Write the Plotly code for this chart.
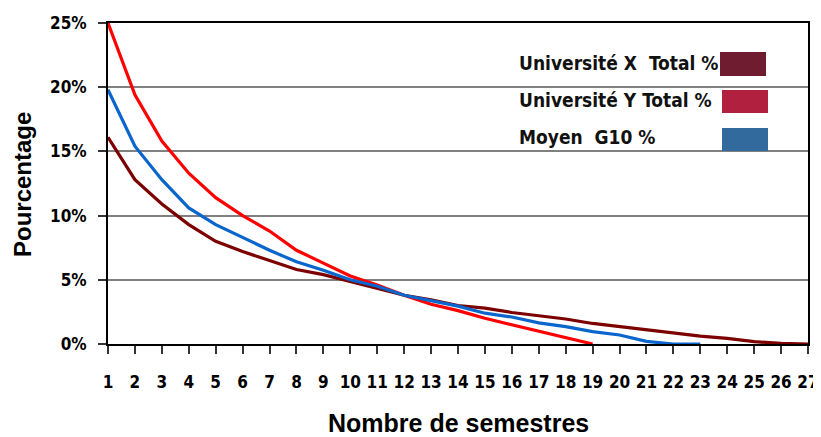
import plotly.graph_objects as go

semesters = list(range(1, 28))
univ_x = [16.1, 12.8, 10.9, 9.3, 8.0, 7.2, 6.5, 5.8, 5.4, 4.85, 4.35, 3.8, 3.45, 3.0,
          2.8, 2.45, 2.2, 1.95, 1.6, 1.35, 1.1, 0.85, 0.62, 0.44, 0.18, 0.05, 0.0]
univ_y = [25.0, 19.4, 15.8, 13.3, 11.4, 10.0, 8.8, 7.3, 6.3, 5.3, 4.6, 3.8, 3.1, 2.6,
          2.0, 1.5, 0.96, 0.46, 0.0]
moyen = [19.8, 15.4, 12.8, 10.6, 9.3, 8.3, 7.3, 6.4, 5.75, 5.0, 4.5, 3.8, 3.4, 2.95,
         2.4, 2.1, 1.65, 1.35, 0.96, 0.7, 0.2, 0.0, 0.0]

series_names = ["Université X  Total %", "Université Y Total %", "Moyen  G10 %"]
line_colors = ["#7d0000", "#ff0000", "#0a66cc"]
swatch_colors = ["#6f1c30", "#b22040", "#336a9e"]
y_ticks = [0, 5, 10, 15, 20, 25]
y_tick_text = ["0%", "5%", "10%", "15%", "20%", "25%"]

NARROW = "DejaVu Sans Condensed, Liberation Sans Narrow, sans-serif"
ARIAL = "Liberation Sans, Arial, sans-serif"

fig = go.Figure()
for name, vals, col in zip(series_names, [univ_x, univ_y, moyen], line_colors):
    fig.add_trace(go.Scatter(x=semesters[:len(vals)], y=vals, mode="lines", name=name,
                             line=dict(color=col, width=3.2), showlegend=False))

# page body has an 8px margin: figure is drawn offset by OFF pixels
OFF = 8
W, H = 821 - OFF, 437 - OFF
# plot area on the page: x 108..808, y 23..344
L, T = 108 - OFF, 23 - OFF
R, B = W - (808 - OFF), H - (344 - OFF)
pw, ph = W - L - R, H - T - B

fig.update_layout(
    width=W, height=H, margin=dict(l=L, r=R, t=T, b=B, autoexpand=False),
    paper_bgcolor="white", plot_bgcolor="white",
    xaxis=dict(range=[1, 27], tickmode="array", tickvals=semesters,
               ticktext=[str(s) for s in semesters], showgrid=False, zeroline=False,
               showline=True, linecolor="black", linewidth=2, mirror=True,
               ticks="outside", ticklen=8, tickwidth=1.5, tickcolor="#333",
               ticklabelstandoff=14, tickangle=0, automargin=False,
               tickfont=dict(family=NARROW, size=17, color="black", weight="bold")),
    yaxis=dict(range=[0, 25], tickmode="array", tickvals=y_ticks, ticktext=y_tick_text,
               showgrid=True, gridcolor="#808080", gridwidth=2, zeroline=False,
               showline=True, linecolor="black", linewidth=2, mirror=True,
               ticks="outside", ticklen=8, tickwidth=1.5, tickcolor="#333",
               ticklabelstandoff=8, automargin=False,
               tickfont=dict(family=NARROW, size=17, color="black", weight="bold")),
    xaxis2=dict(range=[1, 27], overlaying="x", anchor="y", side="bottom",
                tickmode="array", tickvals=semesters, showticklabels=False,
                showgrid=False, zeroline=False, showline=False, automargin=False,
                ticks="inside", ticklen=7, tickwidth=1.5, tickcolor="#333"),
    yaxis2=dict(range=[0, 25], overlaying="y", anchor="x", side="left",
                tickmode="array", tickvals=y_ticks, showticklabels=False,
                showgrid=False, zeroline=False, showline=False, automargin=False,
                ticks="inside", ticklen=7, tickwidth=1.5, tickcolor="#333"),
)

def px_x(p):
    # p: page pixel x
    return (p - OFF - L) / pw

def px_y(p):
    # p: page pixel y
    return (H - B - (p - OFF)) / ph

# axis titles
fig.add_annotation(text="Pourcentage", xref="paper", yref="paper", x=px_x(22), y=px_y(185),
                   textangle=-90, showarrow=False, xanchor="center", yanchor="middle",
                   font=dict(family=ARIAL, size=24, color="black", weight="bold"))
fig.add_annotation(text="Nombre de semestres", xref="paper", yref="paper", x=0.5, y=px_y(423),
                   showarrow=False, xanchor="center", yanchor="middle",
                   font=dict(family=ARIAL, size=25, color="black", weight="bold"))

# custom legend: text left, swatch right
text_y = [63, 100, 137]
sw_box = [(720, 52, 766, 76), (722, 90, 768, 113), (722, 128, 768, 151)]
for name, ty, box, col in zip(series_names, text_y, sw_box, swatch_colors):
    fig.add_annotation(text=name.replace(" ", "\u00a0"), xref="paper", yref="paper",
                       x=px_x(517), y=px_y(ty), showarrow=False, xanchor="left",
                       yanchor="middle",
                       font=dict(family=NARROW, size=19, color="#111", weight="bold"))
    fig.add_shape(type="rect", xref="paper", yref="paper",
                  x0=px_x(box[0]), x1=px_x(box[2]), y0=px_y(box[3]), y1=px_y(box[1]),
                  fillcolor=col, line=dict(width=0), layer="above")

fig.write_html("out.html")
